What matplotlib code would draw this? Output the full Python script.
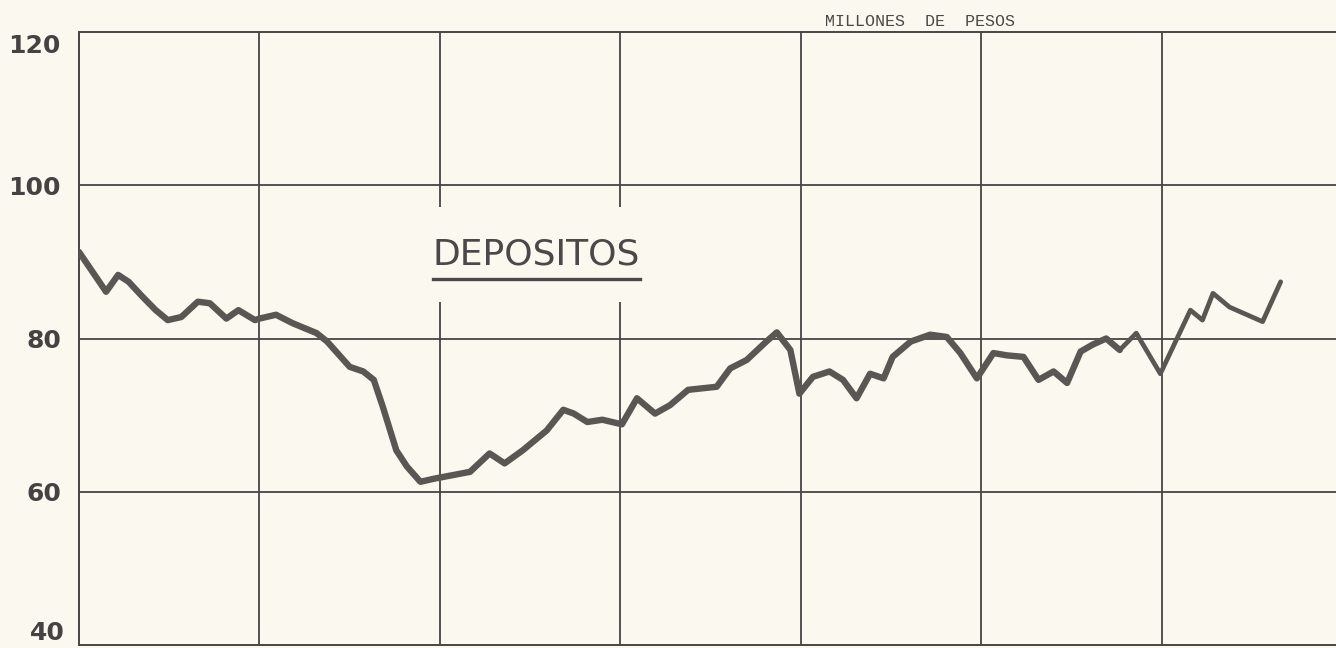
import numpy as np
import matplotlib.pyplot as plt
from matplotlib.transforms import ScaledTranslation

# months from the start of the series (12 per grid column), values in millions of pesos
months = [0.0, 1.8, 2.6, 3.3, 4.2, 5.1, 5.9, 6.8, 7.9, 8.7, 9.8, 10.6, 11.7, 12.0,
          13.1, 14.2, 15.8, 16.5, 18.0, 18.9, 19.6, 20.2, 21.1, 21.8, 22.7, 23.6,
          24.4, 26.0, 27.3, 28.3, 29.5, 31.1, 32.2, 32.9, 33.8, 34.8, 36.1, 37.1,
          38.3, 39.3, 40.5, 42.4, 43.3, 44.4, 45.7, 46.4, 47.3, 47.9, 48.8, 49.9,
          50.8, 51.7, 52.6, 53.5, 54.1, 55.3, 56.6, 57.7, 58.6, 59.7, 60.8, 61.7,
          62.8, 63.8, 64.8, 65.7, 66.6, 67.4, 68.3, 69.2, 70.3, 71.9, 73.9, 74.7,
          75.4, 76.5, 78.7, 79.9]
depositos = [91.3, 86.1, 88.3, 87.4, 85.5, 83.7, 82.4, 82.8, 84.8, 84.6, 82.6, 83.7,
             82.4, 82.6, 83.1, 82.0, 80.7, 79.6, 76.3, 75.7, 74.6, 71.1, 65.4, 63.3,
             61.3, 61.7, 62.0, 62.6, 65.0, 63.7, 65.4, 68.0, 70.7, 70.2, 69.1, 69.4,
             68.8, 72.2, 70.2, 71.3, 73.3, 73.7, 76.1, 77.2, 79.6, 80.8, 78.5, 72.8,
             75.0, 75.7, 74.6, 72.2, 75.4, 74.8, 77.6, 79.6, 80.5, 80.2, 78.1, 74.8,
             78.1, 77.8, 77.6, 74.6, 75.7, 74.2, 78.3, 79.2, 80.0, 78.5, 80.7, 75.4,
             83.7, 82.4, 85.9, 84.1, 82.2, 87.4]
# the last stretch of the curve is drawn with a finer pen
thin_from = 69

y_ticks = [40, 60, 80, 100, 120]
y_labels = ['40', '60', '80', '100', '120']
x_grid = [12, 24, 36, 48, 60, 72]

paper = '#fbf8ef'
ink = '#474545'

fig = plt.figure(figsize=(13.36, 6.48), dpi=100, facecolor=paper)
ax = fig.add_axes([79 / 1336, 3 / 648, 1 - 79 / 1336, 613 / 648], facecolor=paper)

ax.plot(months[:thin_from + 1], depositos[:thin_from + 1], color='#5a5654',
        linewidth=4.6, solid_joinstyle='round', solid_capstyle='round', zorder=4)
ax.plot(months[thin_from:], depositos[thin_from:], color='#5a5654',
        linewidth=3.4, solid_joinstyle='round', solid_capstyle='round', zorder=4)

ax.set_xlim(0, 83.58)
ax.set_ylim(40, 120)

for m in x_grid:
    ax.axvline(m, color=ink, linewidth=1.3, zorder=1)
for v in y_ticks[1:-1]:
    ax.axhline(v, color=ink, linewidth=1.3, zorder=1)

for side in ['left', 'top', 'bottom']:
    ax.spines[side].set_color(ink)
    ax.spines[side].set_linewidth(1.4)
ax.spines['right'].set_visible(False)

ax.set_xticks([])
ax.set_yticks(y_ticks)
ax.set_yticklabels(y_labels, fontsize=18, color='#444242', fontweight='bold')
ax.tick_params(axis='y', length=0, pad=13)
labels = ax.get_yticklabels()
labels[0].set_transform(labels[0].get_transform() + ScaledTranslation(0.04, 0.15, fig.dpi_scale_trans))
labels[-1].set_transform(labels[-1].get_transform() + ScaledTranslation(0, -0.12, fig.dpi_scale_trans))

title = ax.text(0.364, 0.637, 'DEPOSITOS', transform=ax.transAxes, ha='center', va='center',
                fontsize=26, color='#4a4848', zorder=3,
                bbox=dict(boxstyle='square,pad=0.85', facecolor=paper, edgecolor='none'))

# underline the title
fig.canvas.draw()
bb = title.get_window_extent().transformed(fig.transFigure.inverted())
fig.add_artist(plt.Line2D([bb.x0, bb.x1], [bb.y0 - 0.012, bb.y0 - 0.012],
                          transform=fig.transFigure, color='#4a4848', linewidth=2.4))

fig.text(825 / 1336, 1 - 21 / 648, 'MILLONES  DE  PESOS', fontsize=12,
         family='Liberation Mono', color='#4a4848', va='center', ha='left')

plt.savefig('out.png', dpi=100, facecolor=paper)
